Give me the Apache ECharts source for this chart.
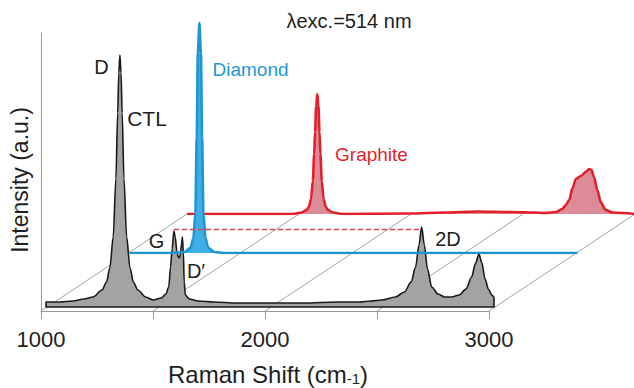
<!DOCTYPE html>
<html>
<head>
<meta charset="utf-8">
<script src="https://cdn.jsdelivr.net/npm/echarts@6/dist/echarts.min.js"></script>
<style>
html,body{margin:0;padding:0;background:#fff;}
#chart{width:634px;height:388px;}
</style>
</head>
<body>
<div id="chart"></div>
<script>
// ---- data (Raman shift cm-1, intensity a.u.) ----
const tickValues = [1000, 1500, 2000, 2500, 3000];
const tickLabels = ['1000', '', '2000', '', '3000'];

const ctlData = [
  [1000,0],[1000,5],[1060,5],[1120,6],[1170,8],[1210,10],[1250,17],[1270,25],[1285,39],[1300,70],
  [1312,128],[1320,194],[1325,234],[1330,252],[1335,234],[1340,194],[1348,128],[1360,70],
  [1375,39],[1390,25],[1410,17],[1445,10],[1478,7],[1515,9],[1535,13],[1548,20],[1556,40],
  [1563,58],[1571,76],[1577,70],[1584,56],[1590,50],[1595,49],[1600,53],[1605,63],[1609,70],
  [1613,55],[1617,25],[1622,12],[1640,8],[1680,6],[1750,5],[1850,4],[2000,4],[2150,4],
  [2300,5],[2400,5],[2450,6],[2500,7],[2560,10],[2600,15],[2630,25],[2650,40],[2665,62],
  [2677,80],[2689,62],[2703,38],[2722,20],[2750,13],[2780,10],[2810,10],[2845,12],[2875,18],
  [2900,30],[2918,44],[2933,53],[2946,44],[2960,28],[2975,18],[2990,12],[3000,10],[3000,0]
];

const diamondData = [
  [1000,0],[1200,0],[1245,1],[1272,5],[1285,15],[1294,40],[1300,115],[1305,200],[1312,230],
  [1319,200],[1324,115],[1330,40],[1339,15],[1352,5],[1379,1],[1420,0],[3000,0]
];

const graphiteData = [
  [1000,0],[1473,0],[1513,1.5],[1535,4],[1545,7],[1555,15],[1563,33],[1569,60],[1573,82],
  [1578,108],[1583,120],[1588,108],[1593,82],[1597,60],[1603,33],[1611,15],[1621,7],
  [1631,4],[1653,1.5],[1693,0],[2000,0.5],[2150,1.5],[2300,2.5],[2450,2],[2550,1.5],
  [2600,1],[2650,2],[2679,5],[2695,9],[2710,14],[2725,26],[2740,35],[2762,38],[2784,42],
  [2800,45],[2810,44],[2821,37],[2836,24],[2851,12],[2873,4],[2903,1.5],[2950,1],[3000,0]
];

// G-band top to 2D-band top (CTL), dashed guide
const guideStart = [1571, 78];
const guideEnd = [2677, 78];

// ---- chart ----
const FONT = '"Liberation Sans", Arial, Helvetica, sans-serif';
const chart = echarts.init(document.getElementById('chart'), null, {renderer: 'svg'});

const hiddenX = (idx) => ({gridIndex: idx, type: 'value', min: 1000, max: 3000, show: false});

const option = {
  animation: false,
  backgroundColor: '#ffffff',
  textStyle: {fontFamily: FONT},
  grid: [
    {left: 41, width: 448, top: 33, height: 278},   // front axes
    {left: 46, width: 448, top: 29, height: 278},   // CTL plane
    {left: 129.5, width: 448, top: 0, height: 253}, // Diamond plane
    {left: 187, width: 448, top: 0, height: 214}    // Graphite plane
  ],
  xAxis: [
    {
      gridIndex: 0, type: 'value', min: 1000, max: 3000, interval: 500,
      axisLine: {show: true, lineStyle: {color: '#9a9a9a', width: 1}},
      axisTick: {show: true, length: 8, lineStyle: {color: '#9a9a9a', width: 1}},
      axisLabel: {
        show: true, margin: 17, fontSize: 22, color: '#1e1e1e', fontFamily: FONT,
        formatter: (v) => tickLabels[tickValues.indexOf(v)] || ''
      },
      splitLine: {show: false}
    },
    {
      gridIndex: 1, type: 'value', min: 1000, max: 3000, z: 5,
      axisLine: {show: true, lineStyle: {color: '#1a1a1a', width: 1.5}},
      axisTick: {show: false}, axisLabel: {show: false}, splitLine: {show: false}
    },
    hiddenX(2),
    hiddenX(3)
  ],
  yAxis: [
    {
      gridIndex: 0, type: 'value', min: 0, max: 278,
      axisLine: {show: true, lineStyle: {color: '#9a9a9a', width: 1}},
      axisTick: {show: false}, axisLabel: {show: false}, splitLine: {show: false}
    },
    {gridIndex: 1, type: 'value', min: 0, max: 278, show: false},
    {gridIndex: 2, type: 'value', min: 0, max: 253, show: false},
    {gridIndex: 3, type: 'value', min: 0, max: 214, show: false}
  ],
  series: [
    {
      type: 'custom', xAxisIndex: 0, yAxisIndex: 0, z: 1,
      data: tickValues.map(v => [v, 0]),
      renderItem: function (params, api) {
        const p = api.coord([api.value(0), 0]);
        return {
          type: 'line',
          shape: {x1: p[0], y1: p[1], x2: p[0] + 146, y2: p[1] - 97},
          style: {stroke: '#8c8c8c', lineWidth: 0.8}
        };
      },
      silent: true
    },
    {
      name: 'CTL', type: 'line', xAxisIndex: 1, yAxisIndex: 1, z: 2,
      data: ctlData, showSymbol: false, smooth: 0.3, smoothMonotone: 'x',
      lineStyle: {color: '#1a1a1a', width: 1.6},
      areaStyle: {color: '#a3a3a3', opacity: 1},
      markLine: {
        silent: true, symbol: 'none', label: {show: false},
        lineStyle: {color: '#e0404c', type: [5, 3], width: 1.4},
        data: [[{coord: guideStart}, {coord: guideEnd}]]
      }
    },
    {
      name: 'Graphite', type: 'line', xAxisIndex: 3, yAxisIndex: 3, z: 3,
      data: graphiteData, showSymbol: false, smooth: 0.3, smoothMonotone: 'x',
      lineStyle: {color: '#e41e2b', width: 2.6},
      areaStyle: {color: '#dc8c96', opacity: 1}
    },
    {
      name: 'Diamond', type: 'line', xAxisIndex: 2, yAxisIndex: 2, z: 4,
      data: diamondData, showSymbol: false, smooth: 0.3, smoothMonotone: 'x',
      lineStyle: {color: '#1f96d4', width: 2.6},
      areaStyle: {color: '#3eaee4', opacity: 1}
    }
  ],
  graphic: [
    {type: 'text', x: 349, y: 21, z: 100, style: {text: 'λexc.=514 nm', font: '20px ' + FONT, fill: '#1e1e1e', textAlign: 'center', textVerticalAlign: 'middle'}},
    {type: 'text', x: 101.5, y: 67, z: 100, style: {text: 'D', font: '20px ' + FONT, fill: '#1e1e1e', textAlign: 'center', textVerticalAlign: 'middle'}},
    {type: 'text', x: 147, y: 118, z: 100, style: {text: 'CTL', font: '21px ' + FONT, fill: '#1e1e1e', textAlign: 'center', textVerticalAlign: 'middle'}},
    {type: 'text', x: 250.5, y: 69.5, z: 100, style: {text: 'Diamond', font: '19px ' + FONT, fill: '#1e98d6', textAlign: 'center', textVerticalAlign: 'middle'}},
    {type: 'text', x: 371.5, y: 154, z: 100, style: {text: 'Graphite', font: '19px ' + FONT, fill: '#e31f2d', textAlign: 'center', textVerticalAlign: 'middle'}},
    {type: 'text', x: 156.5, y: 241, z: 100, style: {text: 'G', font: '20px ' + FONT, fill: '#1e1e1e', textAlign: 'center', textVerticalAlign: 'middle'}},
    {type: 'text', x: 196, y: 271, z: 100, style: {text: 'D′', font: '20px ' + FONT, fill: '#1e1e1e', textAlign: 'center', textVerticalAlign: 'middle'}},
    {type: 'text', x: 448, y: 238.5, z: 100, style: {text: '2D', font: '20px ' + FONT, fill: '#1e1e1e', textAlign: 'center', textVerticalAlign: 'middle'}},
    {type: 'text', x: 20, y: 180, rotation: Math.PI / 2, z: 100, style: {text: 'Intensity (a.u.)', font: '23px ' + FONT, fill: '#1e1e1e', textAlign: 'center', textVerticalAlign: 'middle'}},
    {type: 'text', x: 268, y: 374, z: 100, style: {
      text: '{a|Raman Shift (cm}{s|-1}{a|)}', textAlign: 'center', textVerticalAlign: 'middle', fill: '#1e1e1e',
      rich: {
        a: {fontSize: 24, fontFamily: FONT, fill: '#1e1e1e', verticalAlign: 'bottom', lineHeight: 24},
        s: {fontSize: 15, fontFamily: FONT, fill: '#1e1e1e', verticalAlign: 'bottom', lineHeight: 16}
      }
    }}
  ]
};
chart.setOption(option);
</script>
</body>
</html>
